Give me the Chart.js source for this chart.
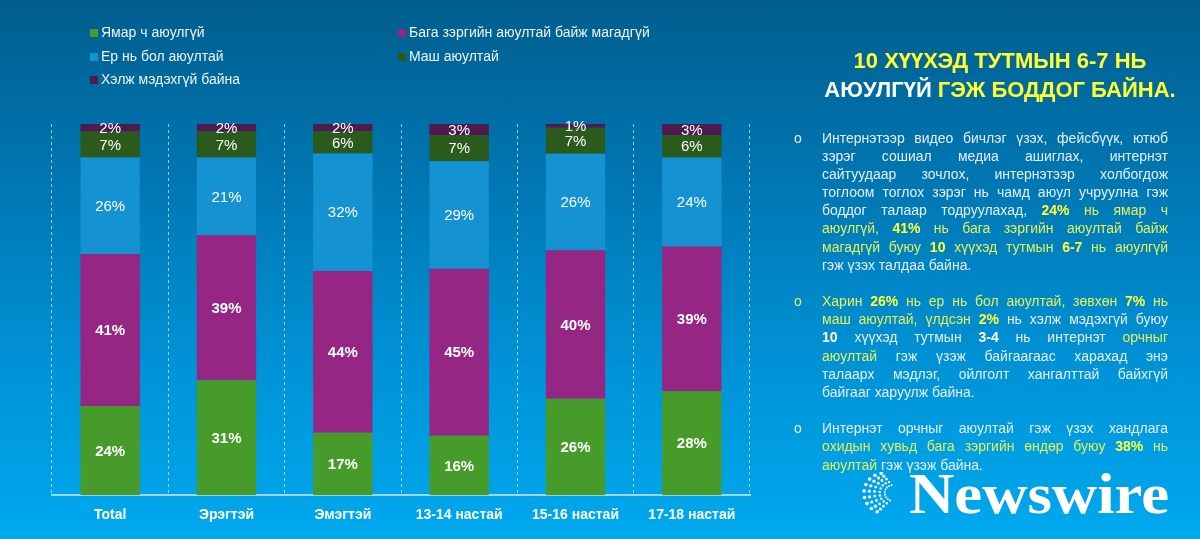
<!DOCTYPE html>
<html>
<head>
<meta charset="utf-8">
<script src="https://cdn.jsdelivr.net/npm/chart.js@4"></script>
<style>
  html, body { margin: 0; padding: 0; }
  body {
    width: 1200px; height: 539px; overflow: hidden; position: relative;
    background: linear-gradient(to bottom, #005e8e 0%, #0078b4 35%, #0094d8 70%, #00a9ee 100%);
    font-family: "Liberation Sans", Arial, sans-serif;
  }
  #chart { position: absolute; left: 0; top: 0; }
  .legend { position: absolute; left: 90px; top: 24px; color: #eef4fa; font-size: 14px; }
  .legend .item { position: absolute; white-space: nowrap; }
  .legend .sw { display: inline-block; width: 8px; height: 8px; margin-right: 3px; vertical-align: 0px; }
  .title { position: absolute; left: 800px; width: 400px; top: 46px; text-align: center;
    font-weight: bold; font-size: 22px; line-height: 29px; color: #ffff33; }
  .title .w { color: #ffffff; }
  .body { position: absolute; left: 822px; top: 129px; width: 346px; font-size: 14px;
    line-height: 18.1px; color: #e6eef8; }
  .body p { margin: 0 0 18.5px 0; position: relative; }
  .body p .bul { position: absolute; left: -28px; top: 0; }
  .body .ln { display: block; text-align: justify; text-align-last: justify; }
  .body .ln.last { text-align-last: left; }
  .y { color: #e3f05a; }
  .body b { color: #ffffff; }
  .yb { color: #ffff3c; font-weight: bold; }
  #globe { position: absolute; left: 862px; top: 472px; }
  .logo-txt { position: absolute; left: 909px; top: 466px; font-family: "Liberation Serif", serif;
    font-weight: bold; font-size: 56px; line-height: 1; color: #fff; white-space: nowrap;
    transform: scaleX(1.12); transform-origin: left top; }
</style>
</head>
<body>
<canvas id="chart" width="1200" height="539"></canvas>

<div class="legend" id="legend"></div>

<div class="title">10 ХҮҮХЭД ТУТМЫН 6-7 НЬ<br><span class="w">АЮУЛГҮЙ</span> ГЭЖ БОДДОГ БАЙНА.</div>

<div class="body">
  <p><span class="bul">o</span>
    <span class="ln">Интернэтээр видео бичлэг үзэх, фейсбүүк, ютюб</span>
    <span class="ln">зэрэг сошиал медиа ашиглах, интернэт</span>
    <span class="ln">сайтуудаар зочлох, интернэтээр холбогдож</span>
    <span class="ln">тоглоом тоглох зэрэг нь чамд аюул учруулна гэж</span>
    <span class="ln">боддог талаар тодруулахад, <span class="yb">24%</span> <span class="y">нь ямар ч</span></span>
    <span class="ln y">аюулгүй, <span class="yb">41%</span> нь бага зэргийн аюултай байж</span>
    <span class="ln y">магадгүй буюу <span class="yb">10</span> хүүхэд тутмын <span class="yb">6-7</span> нь аюулгүй</span>
    <span class="ln last">гэж үзэх талдаа байна.</span>
  </p>
  <p><span class="bul y">o</span>
    <span class="ln y">Харин <span class="yb">26%</span> нь ер нь бол аюултай, зөвхөн <span class="yb">7%</span> нь</span>
    <span class="ln"><span class="y">маш аюултай, үлдсэн</span> <span class="yb">2%</span> нь хэлж мэдэхгүй буюу</span>
    <span class="ln"><b>10</b> хүүхэд тутмын <b>3-4</b> нь интернэт <span class="y">орчныг</span></span>
    <span class="ln"><span class="y">аюултай</span> гэж үзэж байгаагаас харахад энэ</span>
    <span class="ln">талаарх мэдлэг, ойлголт хангалттай байхгүй</span>
    <span class="ln last">байгааг харуулж байна.</span>
  </p>
  <p><span class="bul">o</span>
    <span class="ln">Интернэт орчныг аюултай гэж үзэх хандлага</span>
    <span class="ln y">охидын хувьд бага зэргийн өндөр буюу <span class="yb">38%</span> нь</span>
    <span class="ln last"><span class="y">аюултай</span> гэж үзэж байна.</span>
  </p>
</div>

<svg id="globe" width="44" height="44"></svg>
<div class="logo-txt">Newswire</div>

<script>
// categories and series (bottom to top)
const categories = ["Total", "Эрэгтэй", "Эмэгтэй", "13-14 настай", "15-16 настай", "17-18 настай"];
const seriesNames = ["Ямар ч аюулгүй", "Бага зэргийн аюултай байж магадгүй", "Ер нь бол аюултай", "Маш аюултай", "Хэлж мэдэхгүй байна"];
const notSafe      = [24, 31, 17, 16, 26, 28];
const littleRisk   = [41, 39, 44, 45, 40, 39];
const generally    = [26, 21, 32, 29, 26, 24];
const veryRisky    = [7, 7, 6, 7, 7, 6];
const dontKnow     = [2, 2, 2, 3, 1, 3];
const seriesColors = ["#469b2a", "#952684", "#1592d1", "#2b5a1d", "#511a4c"];
const labelBold    = [true, true, false, false, false];

const rawSeries = [notSafe, littleRisk, generally, veryRisky, dontKnow];
const totals = categories.map((c, i) => rawSeries.reduce((s, arr) => s + arr[i], 0));

// legend (two columns, order as in reference)
const legendOrder = [[0, 0, 0], [1, 1, 0], [2, 0, 1], [3, 1, 1], [4, 0, 2]];
const lg = document.getElementById("legend");
legendOrder.forEach(([si, col, row]) => {
  const d = document.createElement("div");
  d.className = "item";
  d.style.left = (col * 308) + "px";
  d.style.top = (row * 23.5) + "px";
  d.innerHTML = '<span class="sw" style="background:' + seriesColors[si] + '"></span>' + seriesNames[si];
  lg.appendChild(d);
});

// value labels in the middle of each segment
const segmentLabels = {
  id: "segmentLabels",
  afterDatasetsDraw(chart) {
    const ctx = chart.ctx;
    ctx.save();
    ctx.textAlign = "center";
    ctx.textBaseline = "middle";
    ctx.fillStyle = "#ffffff";
    chart.data.datasets.forEach((ds, di) => {
      const meta = chart.getDatasetMeta(di);
      ctx.font = (labelBold[di] ? "bold " : "") + "15px 'Liberation Sans', Arial, sans-serif";
      meta.data.forEach((bar, i) => {
        const y = (bar.y + bar.base) / 2;
        ctx.fillText(rawSeries[di][i] + "%", bar.x, y + 1);
      });
    });
    ctx.restore();
  }
};

new Chart(document.getElementById("chart"), {
  type: "bar",
  data: {
    labels: categories,
    datasets: rawSeries.map((arr, si) => ({
      label: seriesNames[si],
      data: arr.map((v, i) => v / totals[i] * 100),
      backgroundColor: seriesColors[si],
      borderWidth: 0,
      barPercentage: 0.51,
      categoryPercentage: 1
    }))
  },
  options: {
    responsive: false,
    animation: false,
    layout: { padding: { left: 52, right: 450, top: 124, bottom: 3 } },
    plugins: { legend: { display: false }, tooltip: { enabled: false } },
    scales: {
      x: {
        stacked: true,
        grid: { color: "rgba(220,235,250,0.7)", lineWidth: 1, drawTicks: false },
        border: { display: true, color: "rgba(200,225,245,0.8)", width: 2, dash: [3, 3] },
        ticks: { color: "#ffffff", padding: 12, font: { size: 14, weight: "bold", family: "'Liberation Sans', Arial, sans-serif" } }
      },
      y: {
        stacked: true, display: false, min: 0, max: 100
      }
    }
  },
  plugins: [segmentLabels]
});

// decorative globe dots for the logo
const svg = document.getElementById("globe");
let dots = "";
for (let r = 0; r < 5; r++) {
  const rad = 20 - r * 3;
  for (let k = 0; k < 9; k++) {
    const a = (110 + k * 19) * Math.PI / 180;
    const cx = 22 + rad * Math.cos(a) + r * 2.2;
    const cy = 21 + rad * Math.sin(a);
    dots += '<circle cx="' + cx.toFixed(1) + '" cy="' + cy.toFixed(1) + '" r="' + (1.8 - r * 0.2).toFixed(1) + '" fill="#fff"/>';
  }
}
svg.innerHTML = dots;
</script>
</body>
</html>
